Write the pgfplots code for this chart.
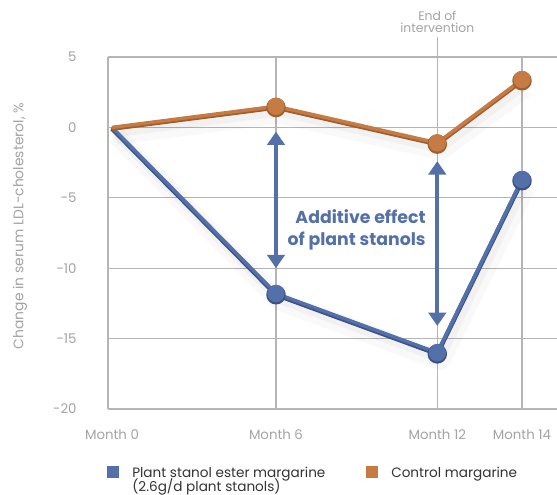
\documentclass[border=0pt]{standalone}
\usepackage{pgfplots}
\pgfplotsset{compat=1.18}
\usepackage{pgfplotstable}
\usepackage{fontspec}
\setmainfont{Poppins}
\usetikzlibrary{arrows.meta}

\definecolor{stanol}{HTML}{5470A9}
\definecolor{stanoldark}{HTML}{3B5089}
\definecolor{control}{HTML}{C67B45}
\definecolor{controldark}{HTML}{A25D2C}
\definecolor{gridgray}{HTML}{B5B5B5}
\definecolor{ticktext}{HTML}{A3A3A3}
\definecolor{legtext}{HTML}{333333}

\pgfplotstableread{
x y
0 0
6 -11.8
11.9 -16.0
15 -3.7
}\stanoltab
\pgfplotstableread{
x y
0 0
6 1.5
11.9 -1.1
15 3.4
}\controltab

\begin{document}
\begin{tikzpicture}
\useasboundingbox (-81pt,-63.75pt) rectangle (336.75pt,306.75pt);
\begin{axis}[
  at={(0,0)}, anchor=south west,
  scale only axis, width=336.75pt, height=264pt,
  xmin=-0.146, xmax=16.28, ymin=-20, ymax=5,
  axis line style={draw=none},
  xtick={0,6,11.9,15}, xticklabels={Month 0,Month 6,Month 12,Month 14},
  ytick={-20,-15,-10,-5,0,5}, yticklabels={-20,-15,-10,-5,0,5},
  major tick length=0pt,
  ymajorgrids=true,
  extra x ticks={-0.146,6,11.9,15}, extra x tick labels={},
  extra x tick style={grid=major},
  grid style={gridgray, line width=1pt},
  tick label style={font=\fontsize{10}{12}\selectfont, text=ticktext},
  xticklabel style={anchor=center, yshift=-19pt},
  yticklabel style={anchor=east, xshift=-20pt},
  ylabel={Change in serum LDL-cholesterol, \%},
  every axis y label/.style={at={(axis description cs:-0.196,0.52)}, rotate=90, anchor=center, font=\fontsize{10.4}{12}\selectfont, text=ticktext},
  clip=false,
]
% soft shadows
\addplot[black, opacity=0.025, line width=14pt, xshift=3pt, yshift=-6pt, line join=round, no marks] table {\stanoltab};
\addplot[black, opacity=0.03, line width=7pt, xshift=2pt, yshift=-4pt, line join=round, no marks] table {\stanoltab};
\addplot[black, opacity=0.025, line width=14pt, xshift=3pt, yshift=-6pt, line join=round, no marks] table {\controltab};
\addplot[black, opacity=0.03, line width=7pt, xshift=2pt, yshift=-4pt, line join=round, no marks] table {\controltab};
% plant stanol ester margarine
\addplot[stanoldark, line width=3.4pt, yshift=-0.9pt, line join=round, mark=*, mark indices={2,3,4}, mark size=5.6pt, mark options={fill=stanoldark, draw=none}] table {\stanoltab};
\addplot[stanol, line width=2.6pt, line join=round, mark=*, mark indices={2,3,4}, mark size=5.2pt, mark options={fill=stanol, draw=none}] table {\stanoltab};
% control margarine
\addplot[controldark, line width=3.4pt, yshift=-0.9pt, line join=round, mark=*, mark indices={2,3,4}, mark size=5.6pt, mark options={fill=controldark, draw=none}] table {\controltab};
\addplot[control, line width=2.6pt, line join=round, mark=*, mark indices={2,3,4}, mark size=5.2pt, mark options={fill=control, draw=none}] table {\controltab};
% additive effect arrows
\addplot[stanol, line width=3pt, >={Triangle[width=13pt,length=10pt]}, <->, no marks] coordinates {(6,-0.3) (6,-10)};
\addplot[stanol, line width=3pt, >={Triangle[width=13pt,length=10pt]}, <->, no marks] coordinates {(11.9,-2.4) (11.9,-14.1)};
\node[font=\bfseries\fontsize{13}{16.5}\selectfont, text=stanol, align=right] at (axis cs:8.95,-7.3) {Additive effect\\of plant stanols};
% end of intervention
\draw[gridgray, line width=1pt] (axis cs:11.9,5) -- (axis cs:11.9,6.42);
\node[font=\fontsize{9.3}{9.3}\selectfont, text=ticktext, align=center] at (axis cs:11.9,7.49) {End of\\intervention};
\end{axis}
% legend
\fill[stanol] (-0.75pt,-52pt) rectangle (8.25pt,-43pt);
\node[anchor=base west, inner sep=0pt, font=\fontsize{10.2}{10}\selectfont, text=legtext] at (18pt,-51.5pt) {Plant stanol ester margarine};
\node[anchor=base west, inner sep=0pt, font=\fontsize{10.2}{10}\selectfont, text=legtext] at (18pt,-61.5pt) {(2.6g/d plant stanols)};
\fill[control] (193.5pt,-52pt) rectangle (202.5pt,-43pt);
\node[anchor=base west, inner sep=0pt, font=\fontsize{10.2}{10}\selectfont, text=legtext] at (212.25pt,-51.5pt) {Control margarine};
\end{tikzpicture}
\end{document}
